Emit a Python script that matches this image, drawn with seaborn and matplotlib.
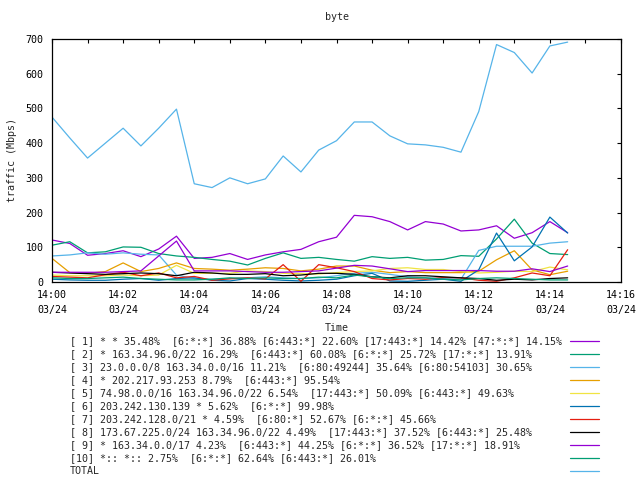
import matplotlib
matplotlib.use("Agg")
import matplotlib.pyplot as plt
import matplotlib.dates as mdates
from matplotlib.lines import Line2D
import pandas as pd
import seaborn as sns

times = pd.date_range("2024-03-24 14:00:00", periods=30, freq="30s")

labels = [
    "[ 1] * * 35.48%  [6:*:*] 36.88% [6:443:*] 22.60% [17:443:*] 14.42% [47:*:*] 14.15%",
    "[ 2] * 163.34.96.0/22 16.29%  [6:443:*] 60.08% [6:*:*] 25.72% [17:*:*] 13.91%",
    "[ 3] 23.0.0.0/8 163.34.0.0/16 11.21%  [6:80:49244] 35.64% [6:80:54103] 30.65%",
    "[ 4] * 202.217.93.253 8.79%  [6:443:*] 95.54%",
    "[ 5] 74.98.0.0/16 163.34.96.0/22 6.54%  [17:443:*] 50.09% [6:443:*] 49.63%",
    "[ 6] 203.242.130.139 * 5.62%  [6:*:*] 99.98%",
    "[ 7] 203.242.128.0/21 * 4.59%  [6:80:*] 52.67% [6:*:*] 45.66%",
    "[ 8] 173.67.225.0/24 163.34.96.0/22 4.49%  [17:443:*] 37.52% [6:443:*] 25.48%",
    "[ 9] * 163.34.0.0/17 4.23%  [6:443:*] 44.25% [6:*:*] 36.52% [17:*:*] 18.91%",
    "[10] *:: *:: 2.75%  [6:*:*] 62.64% [6:443:*] 26.01%",
    "TOTAL",
]

s1 = [121, 111, 77, 82, 90, 73, 95, 132, 68, 71, 82, 65, 78, 87, 94, 116,
      129, 192, 188, 174, 150, 174, 167, 147, 150, 162, 126, 142, 174, 142]
s2 = [106, 116, 84, 87, 101, 100, 82, 75, 71, 65, 60, 49, 68, 84, 68, 71,
      65, 60, 73, 68, 71, 63, 65, 76, 74, 124, 181, 112, 82, 79]
s3 = [75, 78, 84, 80, 84, 80, 78, 20, 10, 8, 10, 12, 15, 12, 10, 12,
      18, 25, 28, 22, 15, 12, 10, 8, 91, 103, 103, 103, 112, 116]
s4 = [68, 27, 25, 30, 55, 30, 39, 55, 39, 37, 34, 37, 41, 39, 32, 37,
      46, 46, 34, 27, 30, 27, 27, 27, 31, 64, 90, 35, 21, 31]
s5 = [20, 18, 18, 18, 20, 18, 20, 48, 25, 25, 25, 32, 30, 25, 24, 23,
      27, 30, 32, 39, 41, 36, 36, 30, 26, 28, 31, 30, 43, 35]
s6 = [8, 6, 5, 5, 8, 10, 5, 10, 12, 5, 3, 10, 8, 5, 3, 5,
      8, 18, 25, 3, 2, 5, 8, 2, 35, 141, 61, 101, 187, 141]
s7 = [16, 14, 12, 21, 28, 18, 26, 12, 16, 5, 9, 12, 9, 50, 2, 50,
      41, 30, 10, 6, 10, 8, 13, 12, 5, 2, 12, 26, 18, 93]
s8 = [28, 26, 24, 22, 24, 26, 24, 18, 28, 26, 22, 22, 24, 18, 20, 25,
      25, 22, 15, 12, 18, 18, 15, 12, 10, 5, 8, 6, 10, 12]
s9 = [28, 28, 28, 28, 30, 32, 75, 118, 32, 32, 32, 30, 28, 28, 30, 32,
      40, 48, 46, 38, 30, 33, 33, 33, 33, 31, 31, 38, 30, 46]
s10 = [12, 10, 10, 12, 14, 10, 8, 6, 6, 8, 12, 10, 12, 10, 10, 14,
       12, 20, 15, 10, 12, 12, 8, 6, 10, 12, 10, 8, 6, 6]
total = [475, 415, 357, 400, 443, 392, 443, 498, 283, 272, 300, 283, 297, 363, 317, 380,
         407, 461, 461, 421, 398, 395, 388, 374, 491, 684, 661, 602, 680, 691]

series = [s1, s2, s3, s4, s5, s6, s7, s8, s9, s10, total]
colors = ["#9400d3", "#009e73", "#56b4e9", "#e69f00", "#f0e442", "#0072b2",
          "#e51e10", "#000000", "#9400d3", "#009e73", "#56b4e9"]

sns.set_style("white")
plt.rcParams["font.family"] = ["DejaVu Sans Mono", "DejaVu Sans"]
plt.rcParams["font.size"] = 7.2

fig = plt.figure(figsize=(6.4, 4.8), dpi=100)
ax = fig.add_axes([52 / 640, 1 - 282 / 480, (621 - 52) / 640, (282 - 39) / 480])

for vals, col in zip(series, colors):
    sns.lineplot(x=times, y=vals, color=col, linewidth=0.9, ax=ax)

ax.set_xlim(pd.Timestamp("2024-03-24 14:00"), pd.Timestamp("2024-03-24 14:16"))
ax.set_ylim(0, 700)
ax.set_yticks(range(0, 701, 100))
ax.xaxis.set_major_locator(mdates.MinuteLocator(byminute=range(0, 60, 2)))
ax.xaxis.set_minor_locator(mdates.MinuteLocator())
ax.xaxis.set_major_formatter(mdates.DateFormatter("%H:%M\n%m/%d"))
ax.tick_params(which="both", direction="in", length=3, width=0.8,
               top=True, right=True, colors="black", labelsize=7.2, pad=6)
for sp in ax.spines.values():
    sp.set_color("black")
    sp.set_linewidth(0.9)
for t in ax.get_xticklabels():
    t.set_linespacing(1.6)

ax.set_title("byte", fontsize=7.2, pad=14)
ax.set_xlabel("Time", fontsize=7.2, labelpad=6)
ax.set_ylabel("traffic (Mbps)", fontsize=7.2, labelpad=6)

# gnuplot-style key: text on the left, sample line on the right
for k, (lab, col) in enumerate(zip(labels, colors)):
    y = 1 - (341 + 13 * k) / 480
    fig.text(70 / 640, y, lab, ha="left", va="center", fontsize=7.2)
    fig.add_artist(Line2D([570 / 640, 599 / 640], [y, y], color=col,
                          linewidth=0.9, transform=fig.transFigure))

fig.savefig("out.png", dpi=100)
